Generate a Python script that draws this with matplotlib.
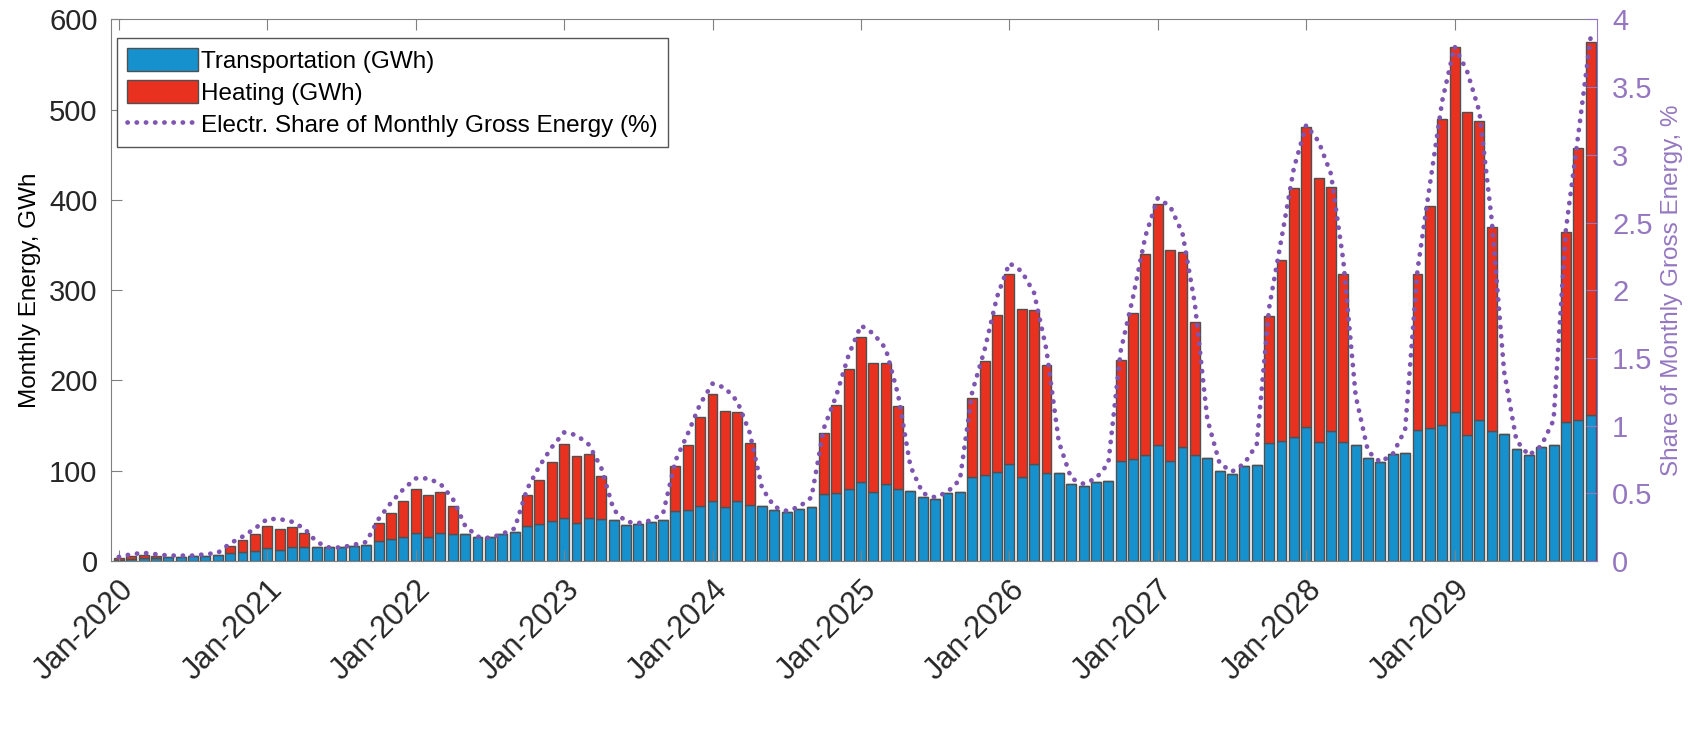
import numpy as np
import matplotlib.pyplot as plt

plt.rcParams['font.family'] = ['Liberation Sans', 'DejaVu Sans']

# monthly data Jan-2020 .. Dec-2029
year_labels = ['Jan-2020', 'Jan-2021', 'Jan-2022', 'Jan-2023', 'Jan-2024',
               'Jan-2025', 'Jan-2026', 'Jan-2027', 'Jan-2028', 'Jan-2029']

transport = [
    1.5, 2.5, 3, 3.5, 4, 4.5, 5, 6, 7, 9, 10, 11,                 # 2020
    14, 12, 15, 15, 16, 15, 15, 17, 18, 22, 24, 27,               # 2021
    31, 27, 31, 30, 30, 27, 27, 30, 32, 39, 41, 44,               # 2022
    48, 42, 48, 46, 45, 40, 41, 43, 45, 55, 57, 61,               # 2023
    66, 60, 66, 62, 61, 56, 54, 58, 60, 74, 75, 80,               # 2024
    87, 76, 85, 80, 78, 71, 69, 75, 76, 93, 95, 99,               # 2025
    108, 93, 107, 98, 97, 85, 83, 88, 89, 111, 113, 117,          # 2026
    129, 111, 126, 117, 114, 100, 96, 105, 106, 131, 133, 137,    # 2027
    149, 132, 144, 132, 129, 114, 110, 118, 120, 145, 147, 151,   # 2028
    165, 140, 156, 144, 141, 124, 117, 126, 128, 154, 156, 162,   # 2029
]

heating = [
    1.5, 2.5, 3.5, 2, 0, 0, 0, 0, 0, 8, 13, 19,
    25, 23, 23, 16, 0, 0, 0, 0, 0, 20, 29, 40,
    49, 46, 45, 31, 0, 0, 0, 0, 0, 34, 49, 66,
    82, 74, 70, 48, 0, 0, 0, 0, 0, 50, 72, 98,
    119, 106, 99, 69, 0, 0, 0, 0, 0, 68, 98, 133,
    161, 143, 134, 92, 0, 0, 0, 0, 0, 88, 127, 174,
    210, 186, 171, 119, 0, 0, 0, 0, 0, 112, 162, 223,
    266, 234, 216, 148, 0, 0, 0, 0, 0, 140, 201, 276,
    332, 292, 270, 186, 0, 0, 0, 0, 0, 173, 246, 339,
    405, 357, 331, 226, 0, 0, 0, 0, 0, 211, 302, 413,
]

share = [
    0.03, 0.05, 0.06, 0.05, 0.04, 0.04, 0.04, 0.05, 0.06, 0.13, 0.18, 0.24,
    0.31, 0.31, 0.29, 0.24, 0.14, 0.10, 0.10, 0.12, 0.14, 0.31, 0.43, 0.53,
    0.61, 0.61, 0.57, 0.46, 0.26, 0.18, 0.17, 0.20, 0.24, 0.53, 0.70, 0.84,
    0.95, 0.93, 0.86, 0.69, 0.38, 0.29, 0.28, 0.30, 0.35, 0.74, 0.94, 1.16,
    1.31, 1.28, 1.18, 0.95, 0.54, 0.40, 0.37, 0.40, 0.47, 0.98, 1.22, 1.52,
    1.74, 1.68, 1.57, 1.23, 0.70, 0.50, 0.47, 0.51, 0.60, 1.25, 1.56, 1.95,
    2.20, 2.14, 1.98, 1.56, 0.88, 0.61, 0.57, 0.61, 0.72, 1.55, 1.95, 2.40,
    2.68, 2.62, 2.42, 1.90, 1.05, 0.72, 0.66, 0.72, 0.86, 1.87, 2.38, 2.90,
    3.22, 3.10, 2.86, 2.22, 1.22, 0.81, 0.73, 0.79, 0.97, 2.15, 2.78, 3.40,
    3.80, 3.62, 3.32, 2.52, 1.40, 0.89, 0.78, 0.85, 1.04, 2.45, 3.15, 3.87,
]

blue = '#1791CD'
red = '#E8321F'
purple = '#7E55B0'
purple_ax = '#9477C0'
edge = '#505050'

x = np.arange(len(transport))

fig = plt.figure(figsize=(16.88, 7.48), dpi=100)
ax = fig.add_axes([0.066, 0.25, 0.880, 0.724])

b1 = ax.bar(x, transport, width=0.8, color=blue, edgecolor=edge, linewidth=1.0,
            label='Transportation (GWh)')
b2 = ax.bar(x, heating, width=0.8, bottom=transport, color=red, edgecolor=edge,
            linewidth=1.0, label='Heating (GWh)')

ax.set_xlim(-0.6, 119.5)
ax.set_ylim(0, 600)
ax.set_yticks(np.arange(0, 601, 100))
ax.set_xticks(np.arange(0, 120, 12))
ax.set_xticklabels(year_labels, rotation=45, ha='right', rotation_mode='anchor')
ax.tick_params(axis='x', top=True, direction='in', length=8, labelsize=22,
               color='#808080', pad=10, labelcolor='#262626')
ax.tick_params(axis='y', direction='in', length=8, labelsize=21, color='#808080',
               pad=10, labelcolor='#262626')
ax.set_ylabel('Monthly Energy, GWh', fontsize=17.5, labelpad=6)
for s in ['left', 'top', 'bottom']:
    ax.spines[s].set_color('#808080')
ax.spines['right'].set_visible(False)

ax2 = ax.twinx()
line, = ax2.plot(x, share, linestyle=(0, (0.05, 1.9)), linewidth=3.4, color=purple,
                 dash_capstyle='round', label='Electr. Share of Monthly Gross Energy (%)')
ax2.set_ylim(0, 4)
ax2.set_yticks(np.arange(0, 4.01, 0.5))
ax2.set_yticklabels(['0', '0.5', '1', '1.5', '2', '2.5', '3', '3.5', '4'])
ax2.tick_params(axis='y', direction='in', length=8, labelsize=21, colors=purple_ax, pad=11)
ax2.set_ylabel('Share of Monthly Gross Energy, %', fontsize=17.5, color=purple_ax,
               labelpad=6)
ax2.spines['right'].set_color(purple_ax)
for s in ['left', 'top', 'bottom']:
    ax2.spines[s].set_visible(False)

leg = ax2.legend([b1, b2, line], [b1.get_label(), b2.get_label(), line.get_label()],
                 loc='upper left', bbox_to_anchor=(0.004, 0.966), borderaxespad=0,
                 fontsize=17.5, fancybox=False, framealpha=1, edgecolor='#555555',
                 handlelength=2.9, handleheight=1.1, borderpad=0.4,
                 labelspacing=0.3, handletextpad=0.15)
leg.get_frame().set_linewidth(1.0)

fig.savefig('out.png', dpi=100)
